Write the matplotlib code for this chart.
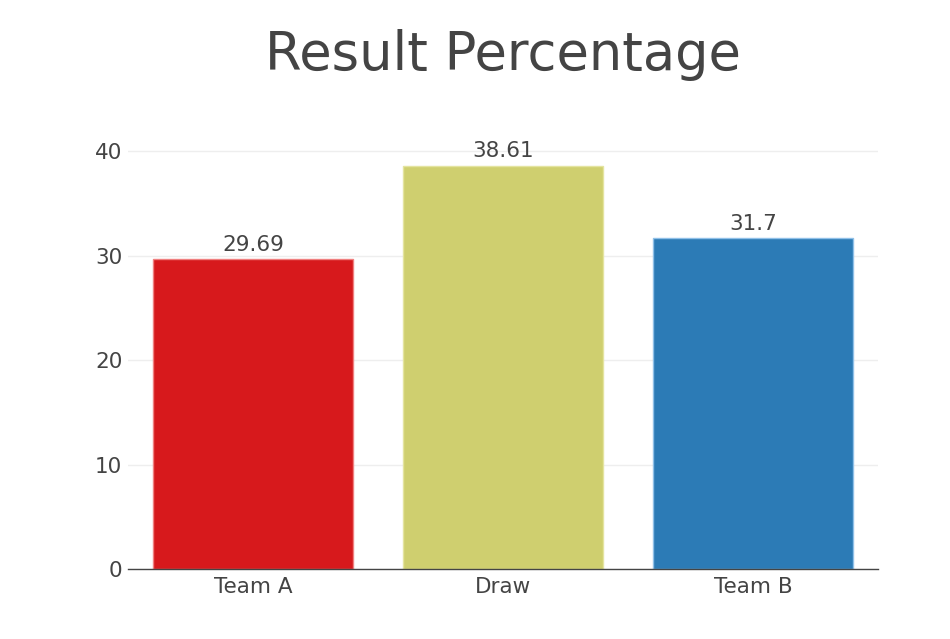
import matplotlib.pyplot as plt

categories = ['Team A', 'Draw', 'Team B']
percentages = [29.69, 38.61, 31.7]
labels = ['29.69', '38.61', '31.7']
colors = ['#d7191c', '#cfcf6f', '#2c7bb6']
edges = ['#f08080', '#e4e4a0', '#8fc0e8']

plt.rcParams['font.family'] = 'DejaVu Sans'
text_color = '#444444'

fig = plt.figure(figsize=(9.5, 6.39), dpi=100)
ax = fig.add_axes([0.1347, 0.1095, 0.7895, 0.6645])

x = range(len(categories))
bars = ax.bar(x, percentages, width=0.8, color=colors, edgecolor=edges, linewidth=1, zorder=2)

for bar, lab in zip(bars, labels):
    ax.annotate(lab, (bar.get_x() + bar.get_width() / 2, bar.get_height()),
                xytext=(0, 3), textcoords='offset points', ha='center', va='bottom',
                fontsize=15.5, color=text_color)

ax.set_xlim(-0.5, 2.5)
ax.set_ylim(0, 40.64)
ax.set_yticks([0, 10, 20, 30, 40])
ax.set_xticks(list(x))
ax.set_xticklabels(categories)
ax.tick_params(axis='both', length=0, labelsize=15.5, labelcolor=text_color)
ax.tick_params(axis='y', pad=4)
ax.tick_params(axis='x', pad=6)
ax.grid(axis='y', color='#eeeeee', linewidth=1, zorder=0)
ax.set_axisbelow(True)

for side in ['top', 'right', 'left']:
    ax.spines[side].set_visible(False)
ax.spines['bottom'].set_color(text_color)
ax.spines['bottom'].set_linewidth(1)

fig.text(0.529, 0.914, 'Result Percentage', ha='center', va='center',
         fontsize=38, color=text_color)

fig.savefig('out.png', dpi=100)
